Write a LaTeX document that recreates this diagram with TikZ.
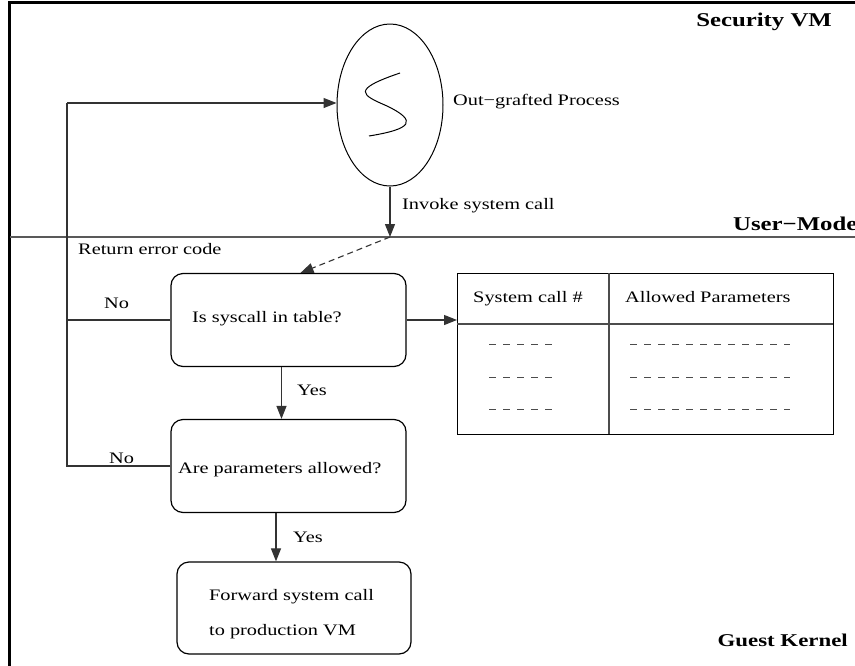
\documentclass[tikz,border=0pt]{standalone}
\usepackage{fontspec}
\setmainfont{Liberation Serif}[FakeStretch=1.27]
\usetikzlibrary{arrows.meta,shapes.geometric}

\begin{document}
\begin{tikzpicture}[x=1pt,y=-1pt,
  lbl/.style={font=\fontsize{16}{19}\selectfont, inner sep=0pt, anchor=base west},
  zone/.style={font=\fontsize{19.5}{24}\selectfont\bfseries, inner sep=0pt, anchor=base east},
  stepbox/.style={draw=black, line width=1.2pt, rounded corners=12pt,
    minimum width=235pt, minimum height=93pt, inner sep=0pt},
  link/.style={draw=black!80, line width=1.1pt},
  flow/.style={link, -{Triangle[length=13pt,width=10pt]}},
  dashrow/.style={draw=black!70, line width=1pt, dash pattern=on 7pt off 7pt},
  ]
\useasboundingbox (0,0) rectangle (855,665);
\clip (0,0) rectangle (855,665);

% outer frame and the user/kernel divide
\draw[line width=3pt] (9.5,2.5) rectangle (900,720);
\draw[black!65, line width=1.5pt] (10,237) -- (860,237);

% zone captions
\node[zone] (secvm) at (832,26) {Security VM};
\node[zone, anchor=base west] (umode) at (733,230) {User−Mode};
\node[zone, font=\fontsize{18}{22}\selectfont\bfseries] (gkern) at (848,646) {Guest Kernel};

% the out-grafted process
\node[ellipse, draw, line width=1pt, minimum width=106pt, minimum height=162pt, inner sep=0pt] (proc) at (390,105) {};
\draw[line width=1pt] (400,73) .. controls (350,90) and (362,95) .. (387,106)
  .. controls (418,121) and (412,129) .. (369,136);
\node[lbl] (proclbl) at (453,105) {Out−grafted Process};

% decision and action boxes
\node[stepbox] (box1) at (288.5,320) {};
\node[lbl] (q1) at (192,322) {Is syscall in table?};
\node[stepbox] (box2) at (288.5,466) {};
\node[lbl] (q2) at (178,473) {Are parameters allowed?};
\node[stepbox, minimum width=234pt, minimum height=92pt] (box3) at (294,608) {};
\node[lbl] (fwd1) at (209,600) {Forward system call};
\node[lbl] (fwd2) at (209,635) {to production VM};

% system call table
\node[draw=black, line width=1.2pt, minimum width=376pt, minimum height=161pt,
  inner sep=0pt, anchor=north west] (tbl) at (457,273) {};
\draw[black!70, line width=1.2pt] (457,324) -- (833,324);
\draw[black!70, line width=1.2pt] (609,273) -- (609,434);
\node[lbl] (h1) at (473,302) {System call \#};
\node[lbl] (h2) at (625,302) {Allowed Parameters};
\foreach \yy in {344,377,409} {
  \draw[dashrow] (489,\yy) -- (553,\yy);
  \draw[dashrow] (630,\yy) -- (790,\yy);
}

% connectors
\coordinate (cross) at (390,237);
\coordinate (loop) at (67,103);
\draw[flow] (proc.south) -- (cross);
\node[lbl] (invoke) at (402,209) {Invoke system call};
\draw[flow, dash pattern=on 6pt off 4pt] (cross) -- ([xshift=12pt]box1.north);
\node[lbl] (reterr) at (78,254) {Return error code};

\draw[link] (box2.west) -- (box2.west -| loop) -- (loop);
\draw[flow] (loop) -- (loop -| proc.west);
\draw[link] (box1.west) -- (box1.west -| loop);
\node[lbl] (no1) at (104,308) {No};
\node[lbl] (no2) at (109,463) {No};

\draw[flow] (box1.east) -- (box1.east -| tbl.west);
\draw[flow] ([xshift=-7pt]box1.south) -- ([xshift=-7pt]box1.south |- box2.north);
\node[lbl] (yes1) at (297,395) {Yes};
\draw[flow] ([xshift=-12.5pt]box2.south) -- ([xshift=-12.5pt]box2.south |- box3.north);
\node[lbl] (yes2) at (293,542) {Yes};
\end{tikzpicture}
\end{document}
